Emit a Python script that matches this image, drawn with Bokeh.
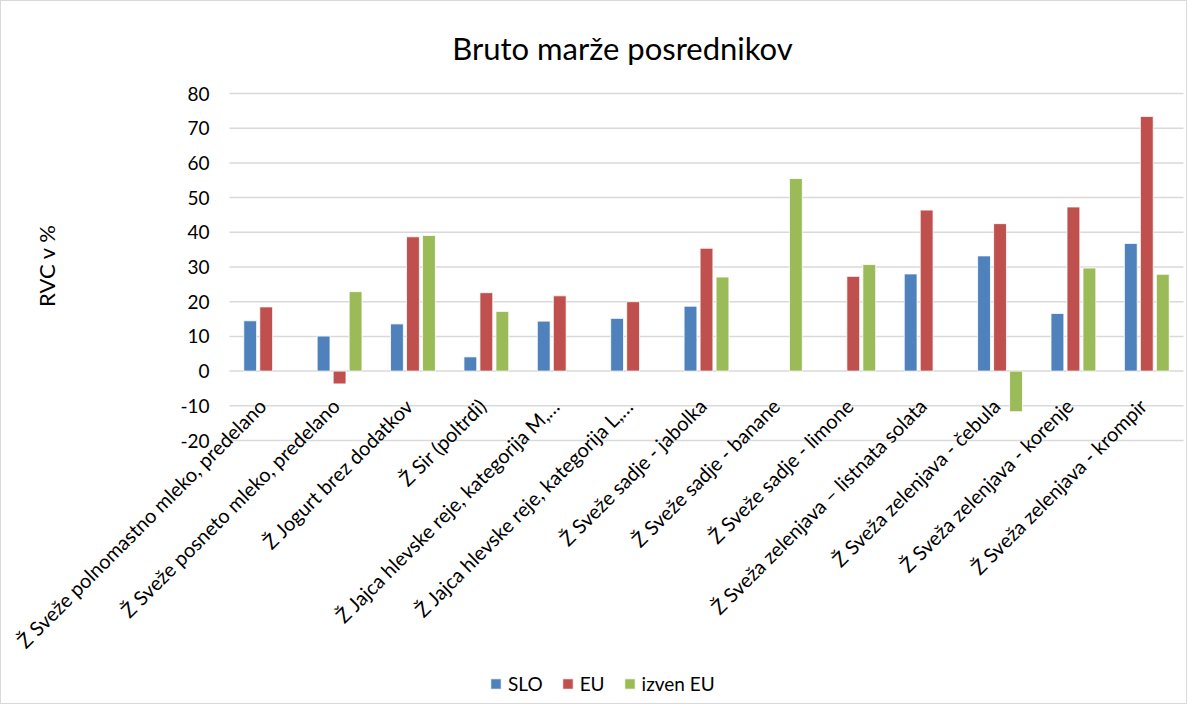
import math
from bokeh.plotting import figure
from bokeh.models import Range1d, ColumnDataSource, Legend, LegendItem
from bokeh.core.properties import value
from bokeh.embed import file_html
from bokeh.resources import INLINE

# ---------------- data ----------------
categories = [
    "Ž Sveže polnomastno mleko, predelano",
    "Ž Sveže posneto mleko, predelano",
    "Ž Jogurt brez dodatkov",
    "Ž Sir (poltrdi)",
    "Ž Jajca hlevske reje, kategorija M,…",
    "Ž Jajca hlevske reje, kategorija L,…",
    "Ž Sveže sadje - jabolka",
    "Ž Sveže sadje - banane",
    "Ž Sveže sadje - limone",
    "Ž Sveža zelenjava – listnata solata",
    "Ž Sveža zelenjava - čebula",
    "Ž Sveža zelenjava - korenje",
    "Ž Sveža zelenjava - krompir",
]
nan = float("nan")
slo = [14.5, 10.1, 13.6, 4.1, 14.4, 15.2, 18.7, nan, nan, 28.0, 33.2, 16.6, 36.8]
eu = [18.5, -3.7, 38.7, 22.6, 21.7, 20.0, 35.4, nan, 27.3, 46.4, 42.5, 47.3, 73.4]
izven_eu = [nan, 22.9, 39.1, 17.2, nan, nan, 27.1, 55.5, 30.7, nan, -11.7, 29.7, 27.9]
series_names = ["SLO", "EU", "izven EU"]
series_colors = ["#4F81BD", "#C0504D", "#9BBB59"]
y_ticks = [-20, -10, 0, 10, 20, 30, 40, 50, 60, 70, 80]
y_tick_labels = ["-20", "-10", "0", "10", "20", "30", "40", "50", "60", "70", "80"]
title_text = "Bruto marže posrednikov"
y_title = "RVC v %"

FONT = "Lato"

# ---------------- layout (canvas pixels) ----------------
W, H = 1187, 704
PX_LEFT, PX_RIGHT = 228, 1182      # plot area left/right
PX_TOP, PX_BOTTOM = 92, 439        # y=80 and y=-20
YMIN, YMAX = -20, 80
n = len(categories)
ppx = (PX_RIGHT - PX_LEFT) / n
ppy = (PX_BOTTOM - PX_TOP) / (YMAX - YMIN)
x_start = -PX_LEFT / ppx
x_end = n + (W - PX_RIGHT) / ppx
y_end = YMAX + PX_TOP / ppy
y_start = YMIN - (H - PX_BOTTOM) / ppy


def cx(px):
    return x_start + px / ppx


def cy(py):
    return y_end - py / ppy


p = figure(width=W, height=H, x_range=Range1d(x_start, x_end), y_range=Range1d(y_start, y_end),
           output_backend="svg", toolbar_location=None,
           min_border=0, min_border_left=0, min_border_right=0, min_border_top=0, min_border_bottom=0)
p.styles = {"border": "1px solid #D9D9D9"}
p.outline_line_color = None
p.xaxis.visible = False
p.yaxis.visible = False
p.xgrid.visible = False
p.ygrid.visible = False

# gridlines
p.segment(x0=[0] * len(y_ticks), x1=[n] * len(y_ticks), y0=y_ticks, y1=y_ticks,
          line_color="#D9D9D9", line_width=1.5)

# y tick labels
p.text(x=[0] * len(y_ticks), y=y_ticks, text=y_tick_labels, x_offset=-20,
       text_align="right", text_baseline="middle", text_font=value(FONT),
       text_font_size=value("19px"), text_color="#000000")

# bars
xs = [i + 0.5 for i in range(n)]
src = ColumnDataSource(data=dict(x=xs, slo=slo, eu=eu, izven=izven_eu))
cols = ["slo", "eu", "izven"]
offsets = [-0.218, 0.0, 0.218]
renderers = []
for col, off, color in zip(cols, offsets, series_colors):
    r = p.vbar(x=[v + off for v in xs], top=src.data[col], bottom=0, width=0.175,
               fill_color=color, line_color="white", line_width=0.8)
    renderers.append(r)

# category labels rotated 45 degrees
p.text(x=xs, y=[0] * n, text=categories, angle=math.pi / 4, x_offset=-4, y_offset=31,
       text_align="right", text_baseline="middle", text_font=value(FONT),
       text_font_size=value("20px"), text_color="#000000")

# title
p.text(x=[cx(621)], y=[cy(46)], text=[title_text], text_align="center",
       text_baseline="middle", text_font=value(FONT), text_font_size=value("31px"),
       text_color="#000000")

# y axis title
p.text(x=[cx(45)], y=[cy(264)], text=[y_title], angle=math.pi / 2, text_align="center",
       text_baseline="middle", text_font=value(FONT), text_font_size=value("22px"),
       text_color="#000000")

legend = Legend(items=[LegendItem(label=nm, renderers=[r]) for nm, r in zip(series_names, renderers)],
                orientation="horizontal", location=(488, 10),
                glyph_width=13, glyph_height=13, label_standoff=6, spacing=18,
                padding=0, margin=0, border_line_color=None, background_fill_alpha=0,
                label_text_font=FONT, label_text_font_size="19px", label_text_color="#000000")
p.add_layout(legend)

open("out.html", "w").write(file_html(p, INLINE))
